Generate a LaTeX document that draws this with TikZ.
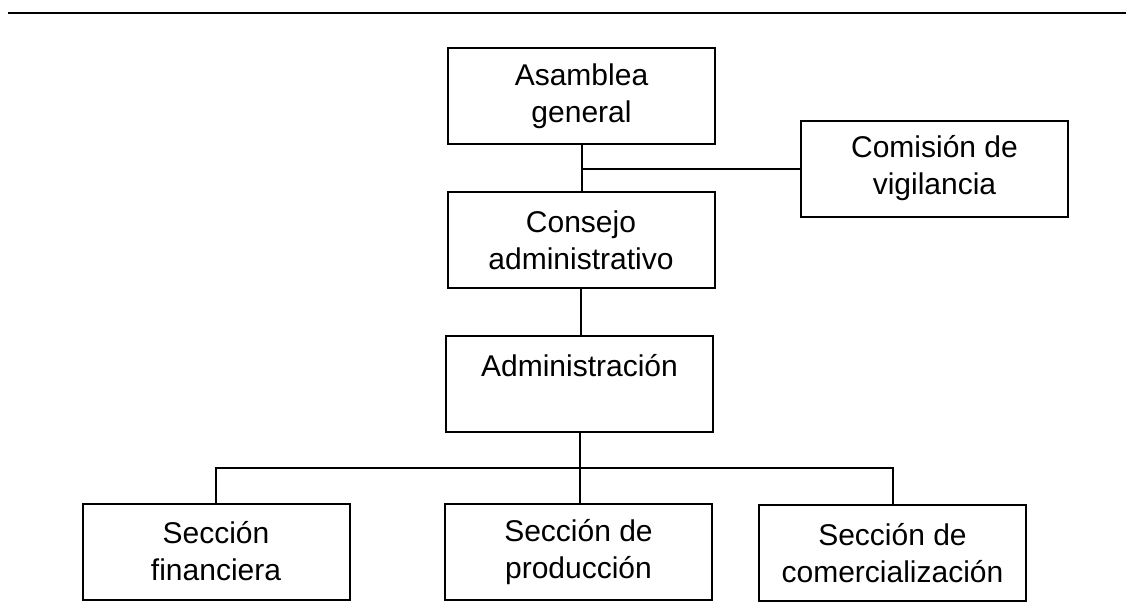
\documentclass[tikz,border=0pt]{standalone}
\usepackage{fontspec}
\setmainfont{Liberation Sans}
\begin{document}
\begin{tikzpicture}[x=1pt,y=-1pt,
  orgbox/.style={draw,line width=2pt,minimum width=267pt,minimum height=96pt,inner sep=0pt,align=center,font=\fontsize{30}{37}\selectfont},
  link/.style={line width=2pt}]
\useasboundingbox (0,0) rectangle (1131,614);
\coordinate (tl) at (8,13);
\coordinate (tr) at (1126,13);
\draw[line width=2pt] (tl) -- (tr);
\node[orgbox] (ag) at (581.5,96) {Asamblea\\general};
\node[orgbox] (cv) at (934.5,168.5) {Comisión de\\vigilancia};
\node[orgbox] (cons) at (581,240) {Consejo\\administrativo};
\node[orgbox] (adm) at (579.5,384) {Administración\\\phantom{A}};
\node[orgbox] (fin) at (216,551.5) {Sección\\financiera};
\node[orgbox] (prod) at (578.5,552) {Sección de\\producción};
\node[orgbox] (com) at (892.5,553) {Sección de\\comercialización};
\coordinate (bus) at (579.5,468);
\draw[link] (ag.south) -- (ag.south |- cons.north);
\draw[link] (cv.west) -- (cv.west -| ag.south);
\draw[link] (cons.south) -- (cons.south |- adm.north);
\draw[link] (adm.south) -- (adm.south |- prod.north);
\draw[link] (fin.north) |- (bus) -| (com.north);
\end{tikzpicture}
\end{document}
